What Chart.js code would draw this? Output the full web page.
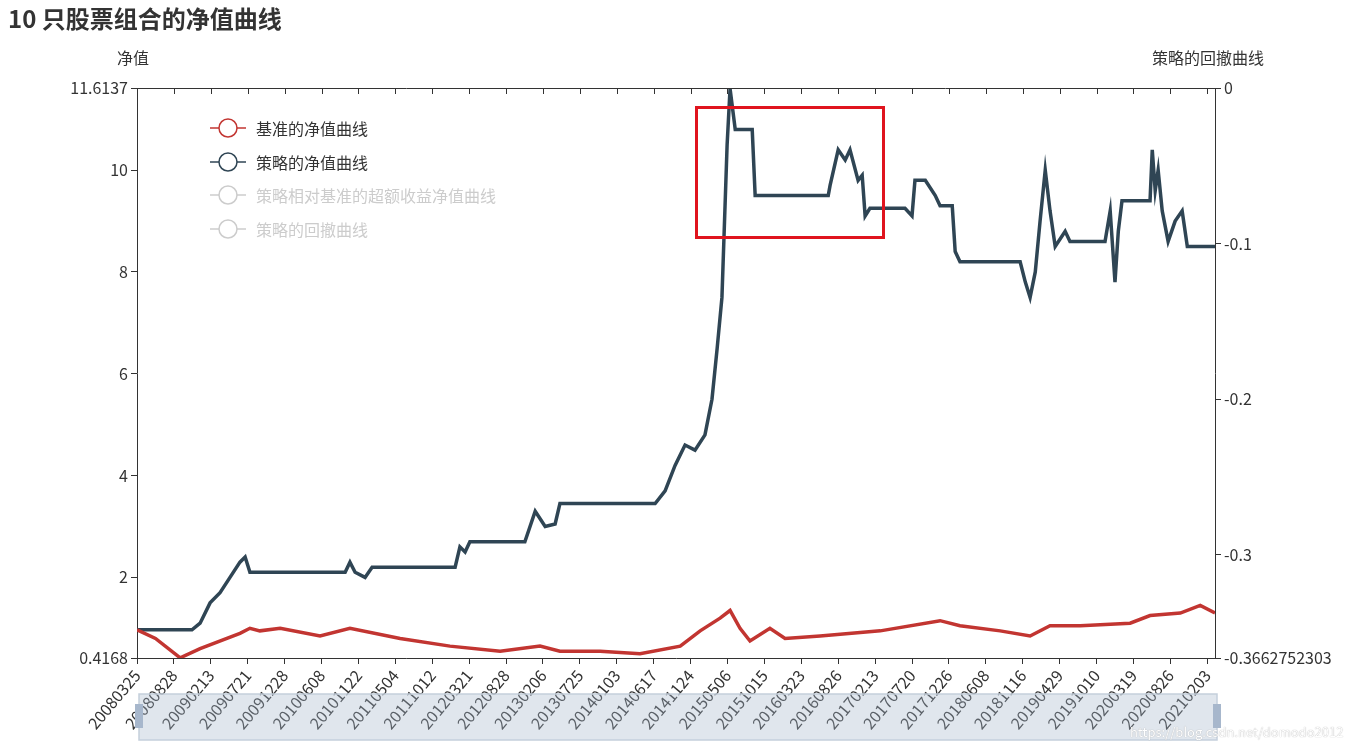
<!DOCTYPE html>
<html>
<head>
<meta charset="utf-8">
<script src="https://cdn.jsdelivr.net/npm/chart.js@4"></script>
<style>
  body { margin: 0; background: #fff; font-family: "Noto Sans CJK SC", "Noto Sans", sans-serif; }
  #wrap { position: relative; width: 1350px; height: 750px; }
  .txt { position: absolute; color: #333; white-space: nowrap; }
  .leg { position: absolute; left: 210px; font-size: 16px; display: flex; align-items: center; }
  .leg svg { margin-right: 10px; }
</style>
</head>
<body>
<div id="wrap">
  <canvas id="chart" width="1350" height="750"></canvas>
  <div class="txt" style="left:8px;top:0px;font-size:24px;font-weight:bold;">10 只股票组合的净值曲线</div>
  <div class="txt" style="left:117px;top:45px;font-size:16px;">净值</div>
  <div class="txt" style="left:1152px;top:45px;font-size:16px;">策略的回撤曲线</div>
  <div id="legend"></div>
  <div style="position:absolute;left:695px;top:106px;width:184px;height:127px;border:3px solid #e0141e;"></div>
  <div class="txt" style="left:1130px;top:722px;font-size:13px;color:#fff;text-shadow:0 0 1px #999;">https://blog.csdn.net/domodo2012</div>
</div>
<script>
// tick labels of the category axis (dates)
const dateLabels = ['20080325','20080828','20090213','20090721','20091228','20100608','20101122','20110504',
  '20111012','20120321','20120828','20130206','20130725','20140103','20140617','20141124','20150506',
  '20151015','20160323','20160826','20170213','20170720','20171226','20180608','20181116','20190429',
  '20191010','20200319','20200826','20210203'];

// strategy net value (position in tick units, value)
const strategyX = [0,1.49,1.71,1.98,2.25,2.52,2.79,2.93,3.06,5.64,5.77,5.91,6.18,6.37,8.62,8.75,8.89,9.02,9.30,
  10.51,10.79,11.06,11.33,11.46,14.04,14.31,14.58,14.85,15.12,15.39,15.58,15.72,15.85,15.99,16.07,16.21,16.67,
  16.75,18.73,18.78,19.00,19.19,19.32,19.54,19.65,19.73,19.86,20.81,21.0,21.08,21.36,21.63,21.76,22.09,22.17,
  22.30,23.93,24.07,24.20,24.34,24.47,24.61,24.74,24.88,25.15,25.28,26.23,26.37,26.50,26.59,26.69,27.45,27.51,
  27.59,27.67,27.78,27.94,28.13,28.32,28.46,29.21];
const strategyY = [0.97,0.97,1.1,1.5,1.7,2.0,2.3,2.4,2.1,2.1,2.3,2.1,2.0,2.2,2.2,2.6,2.5,2.7,2.7,
  2.7,3.3,3.0,3.05,3.45,3.45,3.7,4.2,4.6,4.5,4.8,5.5,6.5,7.5,10.5,11.6,10.8,10.8,
  9.5,9.5,9.7,10.4,10.2,10.4,9.8,9.9,9.1,9.25,9.25,9.1,9.8,9.8,9.5,9.3,9.3,8.4,
  8.2,8.2,7.8,7.5,8.0,9.0,10.0,9.2,8.5,8.8,8.6,8.6,9.2,7.8,8.8,9.4,9.4,10.4,
  9.6,10.0,9.2,8.6,9.0,9.2,8.5,8.5];

// benchmark net value
const benchX = [0,0.5,1.17,1.71,2.79,3.06,3.33,3.88,4.96,5.77,7.13,8.48,9.84,10.92,11.46,12.55,13.63,14.72,
  15.26,15.80,16.07,16.34,16.61,17.15,17.56,18.51,20.14,21.76,22.30,23.39,24.20,24.74,25.56,26.91,27.45,28.27,28.81,29.21];
const benchY = [0.97,0.8,0.42,0.6,0.9,1.0,0.95,1.0,0.85,1.0,0.8,0.65,0.55,0.65,0.55,0.55,0.5,0.65,
  0.95,1.2,1.35,1.0,0.75,1.0,0.8,0.85,0.95,1.15,1.05,0.95,0.85,1.05,1.05,1.1,1.25,1.3,1.45,1.3];

const leftTicks = [0.4168, 2, 4, 6, 8, 10, 11.6137];
const rightTicks = [-0.3662752303, -0.3, -0.2, -0.1, 0];

const legendItems = [
  { name: '基准的净值曲线', color: '#c23531', on: true },
  { name: '策略的净值曲线', color: '#2f4554', on: true },
  { name: '策略相对基准的超额收益净值曲线', color: '#ccc', on: false },
  { name: '策略的回撤曲线', color: '#ccc', on: false },
];
const legend = document.getElementById('legend');
legendItems.forEach((it, i) => {
  const d = document.createElement('div');
  d.className = 'leg';
  d.style.top = (116 + i * 33.5) + 'px';
  d.style.color = it.on ? '#333' : '#ccc';
  d.innerHTML = `<svg width="36" height="22"><line x1="0" y1="11" x2="36" y2="11" stroke="${it.color}" stroke-width="1.5"/>` +
    `<circle cx="18" cy="11" r="9" fill="#fff" stroke="${it.color}" stroke-width="1.5"/></svg>${it.name}`;
  legend.appendChild(d);
});

const toPts = (xs, ys) => xs.map((x, i) => ({ x, y: ys[i] }));
const font = { family: '"Noto Sans CJK SC", sans-serif', size: 16 };

// top axis line with inward ticks, and the data zoom slider look-alike
const extrasPlugin = {
  id: 'extras',
  afterDraw(chart) {
    const c = chart.ctx, a = chart.chartArea, xs = chart.scales.x;
    c.save();
    c.strokeStyle = '#333';
    c.lineWidth = 1;
    c.beginPath();
    c.moveTo(a.left, a.top + 0.5); c.lineTo(a.right, a.top + 0.5);
    dateLabels.forEach((_, i) => {
      const px = Math.round(xs.getPixelForValue(i)) + 0.5;
      c.moveTo(px, a.top); c.lineTo(px, a.top + 6);
    });
    c.stroke();
    c.fillStyle = 'rgba(167,183,204,0.35)';
    c.fillRect(139, 694, 1078, 46);
    c.strokeStyle = '#c5cfdc';
    c.lineWidth = 1.5;
    c.strokeRect(139, 694, 1078, 46);
    c.fillStyle = '#a7b7cc';
    c.fillRect(135, 704, 8, 24);
    c.fillRect(1213, 704, 8, 24);
    c.restore();
  }
};

new Chart(document.getElementById('chart'), {
  type: 'line',
  data: {
    datasets: [
      { label: '基准的净值曲线', data: toPts(benchX, benchY), borderColor: '#c23531', borderWidth: 3.5, pointRadius: 0, yAxisID: 'y' },
      { label: '策略的净值曲线', data: toPts(strategyX, strategyY), borderColor: '#2f4554', borderWidth: 3.5, pointRadius: 0, yAxisID: 'y' },
    ]
  },
  options: {
    responsive: false,
    animation: false,
    layout: { padding: { top: 88 } },
    plugins: { legend: { display: false }, tooltip: { enabled: false } },
    scales: {
      x: {
        type: 'linear', min: 0, max: 29.21,
        afterBuildTicks: s => { s.ticks = dateLabels.map((_, i) => ({ value: i })); },
        afterFit: s => { s.height = 92; },
        ticks: { callback: v => dateLabels[v], maxRotation: 50, minRotation: 50, autoSkip: false, color: '#333', font, padding: 2 },
        grid: { drawOnChartArea: false, tickLength: 6, color: '#333' },
        border: { color: '#333' }
      },
      y: {
        position: 'left', min: 0.4168, max: 11.6137,
        afterBuildTicks: s => { s.ticks = leftTicks.map(v => ({ value: v })); },
        afterFit: s => { s.width = 137; },
        ticks: { color: '#333', font, callback: v => String(v) },
        grid: { drawOnChartArea: false, tickLength: 6, color: '#333' },
        border: { color: '#333' }
      },
      y1: {
        position: 'right', min: -0.3662752303, max: 0,
        afterBuildTicks: s => { s.ticks = rightTicks.map(v => ({ value: v })); },
        afterFit: s => { s.width = 135; },
        ticks: { color: '#333', font, callback: v => String(v) },
        grid: { drawOnChartArea: false, tickLength: 6, color: '#333' },
        border: { color: '#333' }
      }
    }
  },
  plugins: [extrasPlugin]
});
</script>
</body>
</html>
